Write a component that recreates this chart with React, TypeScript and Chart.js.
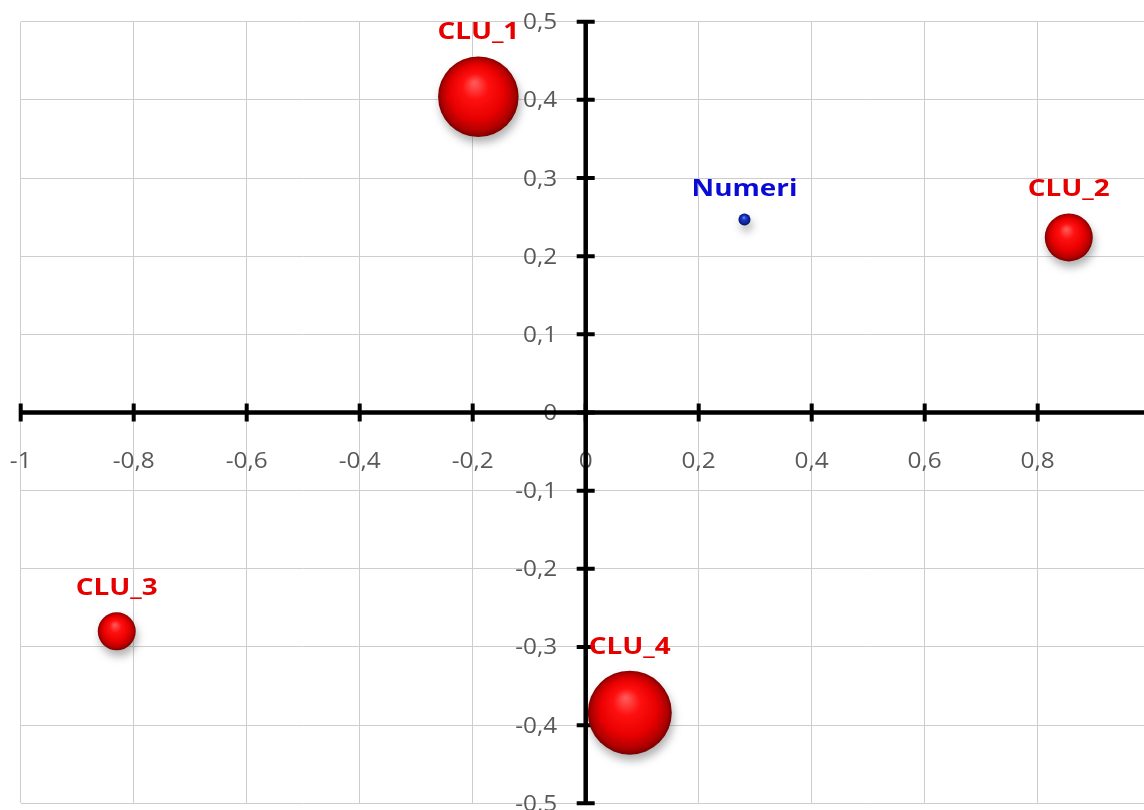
import React, { useEffect, useRef } from "react";
import { Chart, registerables } from "chart.js";

Chart.register(...registerables);

// ---- data ----
const clusterNames = ["CLU_1", "CLU_2", "CLU_3", "CLU_4"];
const clusterX = [-0.19, 0.855, -0.83, 0.078];
const clusterY = [0.404, 0.224, -0.28, -0.384];
const clusterSize = [45, 16, 10, 49];

const variableNames = ["Numeri"];
const variableX = [0.281];
const variableY = [0.247];
const variableSize = [1];

const xTickValues = [-1, -0.8, -0.6, -0.4, -0.2, 0, 0.2, 0.4, 0.6, 0.8, 1];
const xTickLabels = ["-1", "-0,8", "-0,6", "-0,4", "-0,2", "0", "0,2", "0,4", "0,6", "0,8", "1"];
const yTickValues = [-0.5, -0.4, -0.3, -0.2, -0.1, 0, 0.1, 0.2, 0.3, 0.4, 0.5];
const yTickLabels = ["-0,5", "-0,4", "-0,3", "-0,2", "-0,1", "0", "0,1", "0,2", "0,3", "0,4", "0,5"];

// ---- styling ----
const MAX_RADIUS = 42;
const maxSize = Math.max(...clusterSize, ...variableSize);
const radiusFor = (s: number) => MAX_RADIUS * Math.sqrt(s / maxSize);

const FONT = '"Open Sans", "Noto Sans", sans-serif';
const STRETCH = 1.16;

function drawText(ctx: CanvasRenderingContext2D, text: string, x: number, y: number, align: CanvasTextAlign) {
  ctx.save();
  ctx.translate(x, y);
  ctx.scale(STRETCH, 1);
  ctx.textAlign = align;
  ctx.textBaseline = "alphabetic";
  ctx.fillText(text, 0, 0);
  ctx.restore();
}

function sphereFill(stops: [number, string][], fallback: string) {
  return (c: any) => {
    const chart = c.chart;
    const raw = c.raw;
    if (!raw || !chart.chartArea || !chart.scales.x) return fallback;
    const x = chart.scales.x.getPixelForValue(raw.x);
    const y = chart.scales.y.getPixelForValue(raw.y);
    const r = raw.r;
    const g = chart.ctx.createRadialGradient(x - r * 0.1, y - r * 0.35, r * 0.02, x, y, r * 1.02);
    stops.forEach(([o, col]) => g.addColorStop(o, col));
    return g;
  };
}

const redStops: [number, string][] = [
  [0, "#ff5a5a"],
  [0.3, "#ff1010"],
  [0.65, "#e80000"],
  [0.88, "#b00000"],
  [1, "#700000"],
];
const blueStops: [number, string][] = [
  [0, "#6a8cff"],
  [0.35, "#1838c8"],
  [0.8, "#0a2090"],
  [1, "#001050"],
];

const axesPlugin = {
  id: "crossAxes",
  beforeDatasetsDraw(chart: any) {
    const ctx: CanvasRenderingContext2D = chart.ctx;
    const xs = chart.scales.x;
    const ys = chart.scales.y;
    const area = chart.chartArea;
    const x0 = xs.getPixelForValue(0);
    const y0 = ys.getPixelForValue(0);

    // tick labels
    ctx.save();
    ctx.fillStyle = "#595959";
    ctx.font = `21px ${FONT}`;
    xTickValues.forEach((v, i) => {
      drawText(ctx, xTickLabels[i], xs.getPixelForValue(v), y0 + 55, "center");
    });
    yTickValues.forEach((v, i) => {
      drawText(ctx, yTickLabels[i], x0 - 28.5, ys.getPixelForValue(v) + 7.5, "right");
    });
    ctx.restore();

    // axis lines
    ctx.save();
    ctx.strokeStyle = "#000000";
    ctx.lineWidth = 4.5;
    ctx.beginPath();
    ctx.moveTo(area.left, y0);
    ctx.lineTo(area.right, y0);
    ctx.moveTo(x0, area.top);
    ctx.lineTo(x0, area.bottom);
    ctx.stroke();

    // tick marks (cross)
    ctx.lineWidth = 4;
    ctx.beginPath();
    xTickValues.forEach((v) => {
      const px = xs.getPixelForValue(v);
      ctx.moveTo(px, y0 - 9);
      ctx.lineTo(px, y0 + 9);
    });
    yTickValues.forEach((v) => {
      const py = ys.getPixelForValue(v);
      ctx.moveTo(x0 - 9, py);
      ctx.lineTo(x0 + 9, py);
    });
    ctx.stroke();
    ctx.restore();
  },
  beforeDatasetDraw(chart: any) {
    const ctx = chart.ctx;
    ctx.save();
    ctx.shadowColor = "rgba(0,0,0,0.3)";
    ctx.shadowBlur = 8;
    ctx.shadowOffsetX = 2;
    ctx.shadowOffsetY = 6;
  },
  afterDatasetDraw(chart: any) {
    chart.ctx.restore();
  },
  afterDatasetsDraw(chart: any) {
    const ctx: CanvasRenderingContext2D = chart.ctx;
    ctx.save();
    ctx.font = `bold 24px ${FONT}`;
    chart.data.datasets.forEach((ds: any, di: number) => {
      const meta = chart.getDatasetMeta(di);
      ctx.fillStyle = ds.labelColor;
      meta.data.forEach((el: any, i: number) => {
        const r = ds.data[i].r;
        drawText(ctx, ds.names[i], el.x, el.y - r - 17, "center");
      });
    });
    ctx.restore();
  },
};

export default function App() {
  const ref = useRef<HTMLCanvasElement>(null);

  useEffect(() => {
    const prevOverflow = document.body.style.overflow;
    document.body.style.overflow = "hidden";
    const canvas = ref.current!;
    const chart = new Chart(canvas, {
      type: "bubble",
      data: {
        datasets: [
          {
            label: "Cluster",
            names: clusterNames,
            labelColor: "#e60000",
            data: clusterX.map((x, i) => ({ x, y: clusterY[i], r: radiusFor(clusterSize[i]) })),
            backgroundColor: sphereFill(redStops, "#e00000"),
            borderWidth: 0,
          } as any,
          {
            label: "Variabile",
            names: variableNames,
            labelColor: "#0a0ad6",
            data: variableX.map((x, i) => ({ x, y: variableY[i], r: radiusFor(variableSize[i]) })),
            backgroundColor: sphereFill(blueStops, "#1838c8"),
            borderWidth: 0,
          } as any,
        ],
      },
      options: {
        animation: false,
        responsive: false,
        events: [],
        layout: { autoPadding: false, padding: { left: 20.7, right: 29.3, top: 21.7, bottom: 6.7 } },
        plugins: { legend: { display: false }, tooltip: { enabled: false } },
        scales: {
          x: {
            type: "linear",
            min: -1,
            max: 1,
            ticks: { display: false, stepSize: 0.2 },
            grid: { color: "#cdcdcd", lineWidth: 1, drawTicks: false },
            border: { display: false },
          },
          y: {
            type: "linear",
            min: -0.5,
            max: 0.5,
            ticks: { display: false, stepSize: 0.1 },
            grid: { color: "#cdcdcd", lineWidth: 1, drawTicks: false },
            border: { display: false },
          },
        },
      },
      plugins: [axesPlugin],
    });
    return () => {
      chart.destroy();
      document.body.style.overflow = prevOverflow;
    };
  }, []);

  return (
    <div
      style={{
        position: "absolute",
        left: 0,
        top: 0,
        width: 1144,
        height: 810,
        overflow: "hidden",
        background: "#ffffff",
      }}
    >
      <canvas ref={ref} width={1180} height={810} style={{ display: "block" }} />
    </div>
  );
}
